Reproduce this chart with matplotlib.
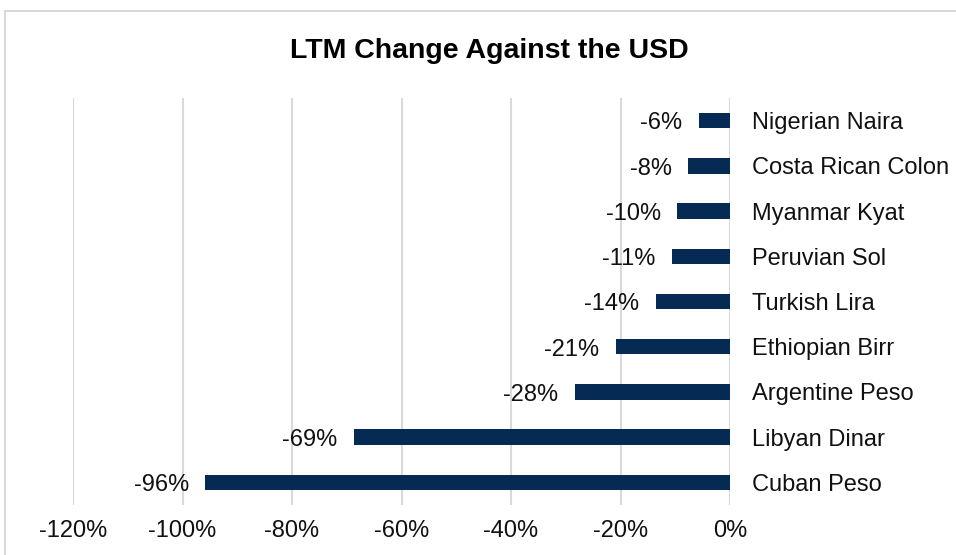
import matplotlib.pyplot as plt
from matplotlib.lines import Line2D

# Currencies listed bottom to top, with LTM change vs USD (%)
currencies = ["Cuban Peso", "Libyan Dinar", "Argentine Peso", "Ethiopian Birr",
              "Turkish Lira", "Peruvian Sol", "Myanmar Kyat", "Costa Rican Colon",
              "Nigerian Naira"]
changes = [-95.8, -68.6, -28.4, -20.8, -13.5, -10.6, -9.6, -7.6, -5.7]
x_ticks = [-120, -100, -80, -60, -40, -20, 0]

plt.rcParams['font.family'] = ['Liberation Sans', 'DejaVu Sans']

fig = plt.figure(figsize=(9.56, 5.55), dpi=100)
ax = fig.add_axes([73 / 956, 50 / 555, 657 / 956, 407 / 555])

y_pos = list(range(len(currencies)))
ax.barh(y_pos, changes, height=0.34, color='#052a53', zorder=3)

# value labels to the left of each bar
for y, v in zip(y_pos, changes):
    ax.annotate(f"{round(v):d}%", (v, y), xytext=(-12, -2), textcoords='offset points',
                ha='right', va='center', fontsize=17, color='#111111')

ax.set_xlim(-120, 0)
ax.set_ylim(-0.5, len(currencies) - 0.5)
ax.set_xticks(x_ticks)
ax.set_xticklabels([f"{t}%" for t in x_ticks])
ax.set_yticks(y_pos)
ax.set_yticklabels(currencies)
ax.yaxis.tick_right()
ax.tick_params(axis='y', length=0, pad=16, labelsize=17, labelcolor='#111111')
ax.tick_params(axis='x', length=0, pad=11, labelsize=17, labelcolor='#111111')

ax.grid(axis='x', color='#d9d9d9', linewidth=1.5, zorder=0)
for s in ax.spines.values():
    s.set_visible(False)

fig.text(489.5 / 956, 1 - 51 / 555, "LTM Change Against the USD", ha='center', va='center',
         fontsize=20.5, fontweight='bold', color='black')

# light outer border (left and top visible)
fig.add_artist(Line2D([5 / 956, 5 / 956], [0, 1 - 11 / 555], color='#d9d9d9', linewidth=1.5))
fig.add_artist(Line2D([5 / 956, 1], [1 - 11 / 555, 1 - 11 / 555], color='#d9d9d9', linewidth=1.5))

fig.savefig("out.png", dpi=100)
